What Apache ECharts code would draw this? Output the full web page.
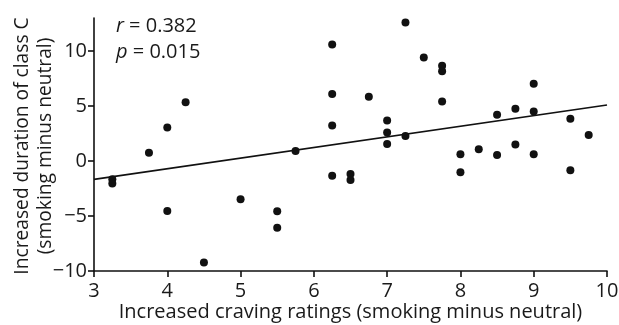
<!DOCTYPE html>
<html>
<head>
<meta charset="utf-8">
<script src="https://cdn.jsdelivr.net/npm/echarts@6/dist/echarts.min.js"></script>
<style>
  html, body { margin: 0; padding: 0; background: #fff; }
  #chart { width: 619px; height: 325px; }
</style>
</head>
<body>
<div id="chart"></div>
<script>
// Craving ratings (x) and class C duration change (y), one entry per participant
const cravingRatings = [
  3.25, 3.25, 3.75, 4.0, 4.0, 4.25, 4.5, 5.0, 5.5, 5.5, 5.75,
  6.25, 6.25, 6.25, 6.25, 6.5, 6.5, 6.75, 7.0, 7.0, 7.0, 7.25, 7.25,
  7.5, 7.75, 7.75, 7.75, 8.0, 8.0, 8.25, 8.5, 8.5, 8.75, 8.75,
  9.0, 9.0, 9.0, 9.5, 9.5, 9.75
];
const durationChange = [
  -1.67, -2.04, 0.76, 3.04, -4.54, 5.33, -9.22, -3.47, -4.57, -6.06, 0.91,
  10.6, 6.09, 3.22, -1.34, -1.19, -1.73, 5.84, 3.68, 2.59, 1.55, 12.6, 2.28,
  9.41, 8.65, 8.16, 5.42, 0.61, -1.03, 1.07, 4.2, 0.55, 4.75, 1.49,
  7.03, 4.5, 0.61, 3.84, -0.85, 2.37
];
// Least-squares fit line end points
const fitX = [3, 10];
const fitY = [-1.67, 5.09];

const xTicks = [3, 4, 5, 6, 7, 8, 9, 10];
const yTicks = [-10, -5, 0, 5, 10];

const FONT = 'Open Sans';
const INK = '#1a1a1a';
const points = cravingRatings.map((x, i) => [x, durationChange[i]]);
const fitLine = fitX.map((x, i) => [x, fitY[i]]);

const chart = echarts.init(document.getElementById('chart'), null, { renderer: 'canvas' });
chart.setOption({
  animation: false,
  grid: { left: 94, right: 12, top: 18, bottom: 54, containLabel: false, outerBoundsMode: 'none' },
  xAxis: {
    type: 'value', min: 3, max: 10, interval: 1,
    name: 'Increased craving ratings (smoking minus neutral)',
    nameLocation: 'middle', nameGap: 31, nameMoveOverlap: false,
    nameTextStyle: { color: INK, fontSize: 20, fontFamily: FONT },
    axisLine: { show: true, onZero: false, lineStyle: { color: '#111', width: 1.6 } },
    axisTick: { show: true, length: 6, lineStyle: { color: '#111', width: 1.6 } },
    axisLabel: {
      color: INK, fontSize: 20, fontFamily: FONT, margin: 10,
      formatter: v => xTicks.includes(v) ? String(v) : ''
    },
    splitLine: { show: false }
  },
  yAxis: {
    type: 'value', min: -10, max: 13, interval: 5,
    axisLine: { show: true, onZero: false, lineStyle: { color: '#111', width: 1.6 } },
    axisTick: { show: true, length: 6, lineStyle: { color: '#111', width: 1.6 } },
    axisLabel: {
      color: INK, fontSize: 20, fontFamily: FONT, margin: 7,
      showMaxLabel: false,
      formatter: v => yTicks.includes(v) ? (v < 0 ? '\u2212' + Math.abs(v) : String(v)) : ''
    },
    splitLine: { show: false }
  },
  series: [
    {
      type: 'line', data: fitLine, showSymbol: false, symbol: 'none',
      lineStyle: { color: '#111', width: 1.6 }, z: 2, silent: true
    },
    {
      type: 'scatter', data: points, symbolSize: 8,
      itemStyle: { color: '#111', opacity: 1 }, z: 3
    }
  ],
  graphic: [
    {
      // y-axis title, two lines rotated to read bottom-to-top
      type: 'text', x: 34, y: 146, rotation: Math.PI / 2,
      style: {
        text: 'Increased duration of class C\n(smoking minus neutral)',
        fontSize: 19.2, fontFamily: FONT, fill: INK, lineHeight: 23,
        align: 'center', verticalAlign: 'middle'
      }
    },
    {
      type: 'text', left: 116, top: 13,
      style: {
        text: '{i|r} = 0.382\n{i|p} = 0.015',
        fontSize: 20, fontFamily: FONT, fill: INK, lineHeight: 26,
        rich: { i: { fontStyle: 'italic', fontSize: 20, fontFamily: FONT, fill: INK } }
      }
    }
  ]
});
</script>
</body>
</html>
